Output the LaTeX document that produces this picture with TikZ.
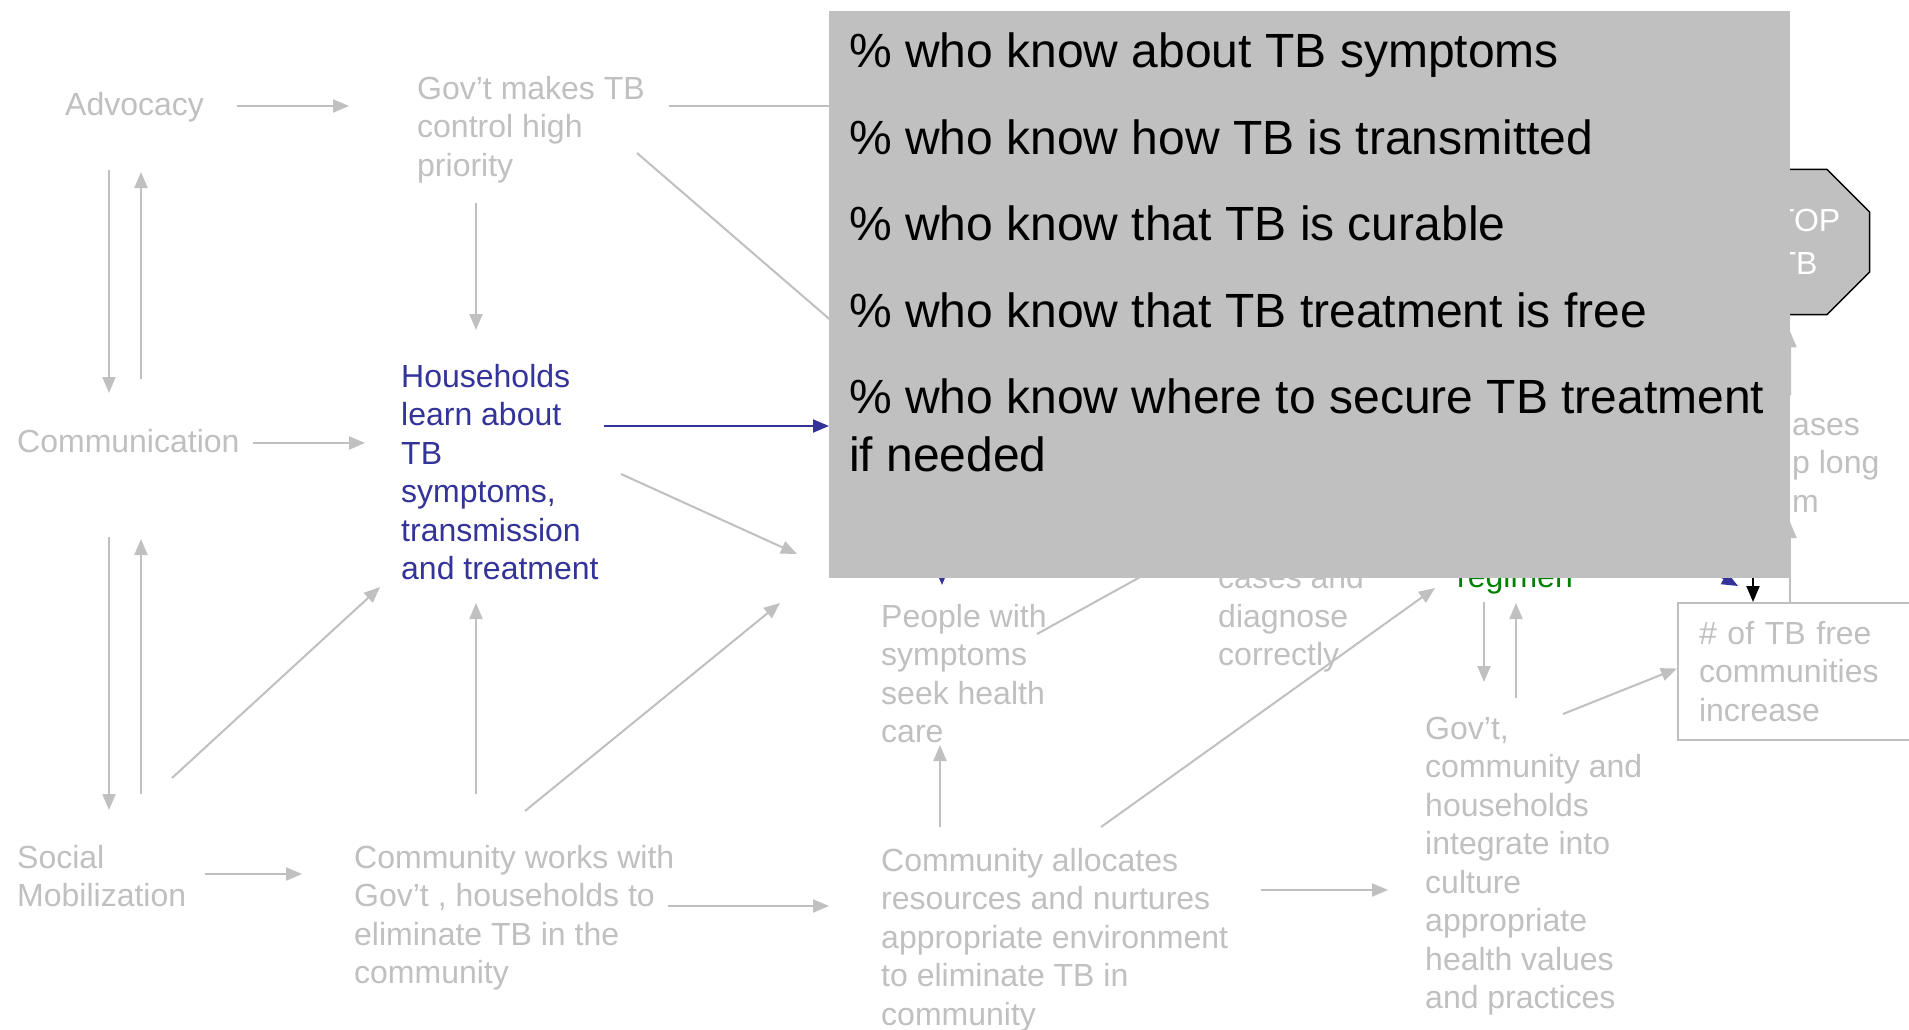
\documentclass[tikz,border=0pt]{standalone}
\usepackage{fontspec}
\setmainfont{Liberation Sans}
\usetikzlibrary{arrows.meta,positioning,shapes.geometric,calc}
\definecolor{faded}{RGB}{192,192,192}
\definecolor{hhblue}{RGB}{51,51,153}
\definecolor{regreen}{RGB}{0,128,0}
\definecolor{boxgray}{RGB}{192,192,192}

\begin{document}
\begin{tikzpicture}[x=1pt,y=1pt,
  every node/.style={inner sep=0pt},
  lbl/.style={text=faded,anchor=base west,align=left,font=\fontsize{32}{38.5}\selectfont},
  ln/.style={draw=faded,line width=2pt},
  arr/.style={ln,-{Triangle[length=16pt,width=13pt]}},
  bluearr/.style={draw=hhblue,line width=2pt,-{Triangle[length=16pt,width=13pt]}},
  blackarr/.style={draw=black,line width=2pt,-{Triangle[length=16pt,width=13pt]}}]
   \useasboundingbox[fill=white] (0,0) rectangle (1909,-1029);

   % faded chain underneath (base west = baseline of the last line)
   \node [lbl] (advocacy) at (65,-115) {Advocacy};
   \node [lbl] (govt) at (417,-176) {Gov’t makes TB\\control high\\priority};
   \node [lbl] (communication) at (17,-452) {Communication};
   \node [lbl,text=hhblue] (households) at (401,-579.5) {Households\\learn about\\TB\\symptoms,\\transmission\\and treatment};
   \node [lbl] (social) at (17,-906.5) {Social\\Mobilization};
   \node [lbl] (works) at (354,-983.5) {Community works with\\Gov’t , households to\\eliminate TB in the\\community};
   \node [lbl] (allocates) at (881,-1025) {Community allocates\\resources and nurtures\\appropriate environment\\to eliminate TB in\\community};
   \node [lbl] (people) at (881,-742.5) {People with\\symptoms\\seek health\\care};
   \node [lbl] (diagnose) at (1218,-665.5) {cases and\\diagnose\\correctly};
   \node [lbl,text=regreen] (regimen) at (1457,-587) {regimen};
   \node [lbl] (integrate) at (1425,-1008.5) {Gov’t,\\community and\\households\\integrate into\\culture\\appropriate\\health values\\and practices};
   \node [lbl,draw=faded,line width=2pt,anchor=north west,minimum height=137pt,text width=258pt,inner xsep=21pt] (tbfree) at (1677,-602) {\# of TB free\\communities\\increase};
   \node [lbl] (casesr) at (1792,-512) {ases\\p long\\m};
   \node [regular polygon,regular polygon sides=8,minimum size=157pt,fill=boxgray,draw=black,line width=1.5pt,text=white,align=center,font=\fontsize{32}{43}\selectfont] (stop) at (1797,-242) {STOP\\TB};

   \draw[arr] ($(advocacy.base west)+(172,9)$) -- ($(govt.base west)+(-68,70)$);
   \draw[ln] ($(govt.base west)+(252,70)$) -- ++(211,0);
   \draw[ln] ($(govt.base west)+(220,23)$) -- ++(263,-227);
   \draw[arr] ($(govt.base west)+(59,-27)$) -- ($(households.base west)+(75,249.5)$);
   \draw[arr] ($(advocacy.base west)+(44,-55)$) -- ($(communication.base west)+(92,59)$);
   \draw[arr] ($(communication.base west)+(124,73)$) -- ($(advocacy.base west)+(76,-57)$);
   \draw[arr] ($(communication.base west)+(236,9)$) -- ($(households.base west)+(-36,136.5)$);
   \draw[arr] ($(households.base west)+(220,105.5)$) -- ++(176,-80);
   \draw[arr] ($(social.base west)+(155,128.5)$) -- ($(households.base west)+(-21,-7.5)$);
   \draw[arr] ($(works.base west)+(122,189.5)$) -- ($(households.base west)+(75,-23.5)$);
   \draw[arr] ($(works.base west)+(171,172.5)$) -- ++(255,208);
   \draw[arr] ($(communication.base west)+(92,-85)$) -- ($(social.base west)+(92,96.5)$);
   \draw[arr] ($(social.base west)+(124,112.5)$) -- ($(communication.base west)+(124,-87)$);
   \draw[arr] ($(social.base west)+(188,32.5)$) -- ($(works.base west)+(-52,109.5)$);
   \draw[arr] ($(works.base west)+(314,77.5)$) -- ($(allocates.base west)+(-52,119)$);
   \draw[arr] ($(allocates.base west)+(380,135)$) -- ($(integrate.base west)+(-37,118.5)$);
   \draw[arr] ($(allocates.base west)+(59,198)$) -- ($(people.base west)+(59,-2.5)$);
   \draw[arr] ($(allocates.base west)+(220,198)$) -- ($(regimen.base west)+(-22,-1)$);
   \draw[bluearr] ($(people.base west)+(61,292.5)$) -- ($(people.base west)+(61,157.5)$);
   \draw[ln] ($(people.base west)+(156,108.5)$) -- ++(163,90);
   \draw[arr] ($(regimen.base west)+(27,-15)$) -- ($(integrate.base west)+(59,326.5)$);
   \draw[arr] ($(integrate.base west)+(91,310.5)$) -- ($(regimen.base west)+(59,-16)$);
   \draw[arr] ($(integrate.base west)+(138,294.5)$) -- ($(tbfree.west)+(0,3)$);
   \draw[blackarr] ($(tbfree.north west)+(76,100)$) -- ($(tbfree.north west)+(76,0)$);
   \draw[bluearr] ($(tbfree.north west)+(-77,92)$) -- ($(tbfree.north west)+(61,16)$);
   \draw[arr] ($(tbfree.north west)+(113,0)$) -- ($(tbfree.north west)+(113,80)$);
   \draw[arr] ($(casesr.base west)+(-2,117)$) -- ($(stop.south)+(-7,-16)$);

   % indicator box on top
   \node [fill=boxgray,minimum width=961pt,minimum height=567pt,anchor=north west] (overlay) at (829,-11) {};
   \node [anchor=base west,align=left,font=\fontsize{48}{57.6}\selectfont] (indicators) at (849,-471.5)
      {\% who know about TB symptoms\\[29pt]\% who know how TB is transmitted\\[29pt]\% who know that TB is curable\\[29pt]\% who know that TB treatment is free\\[29pt]\% who know where to secure TB treatment\\if needed};
   \coordinate (hhout) at ($(households.base west)+(203,153.5)$);
   \draw[bluearr] (hhout) -- (hhout -| overlay.west);
\end{tikzpicture}
\end{document}
